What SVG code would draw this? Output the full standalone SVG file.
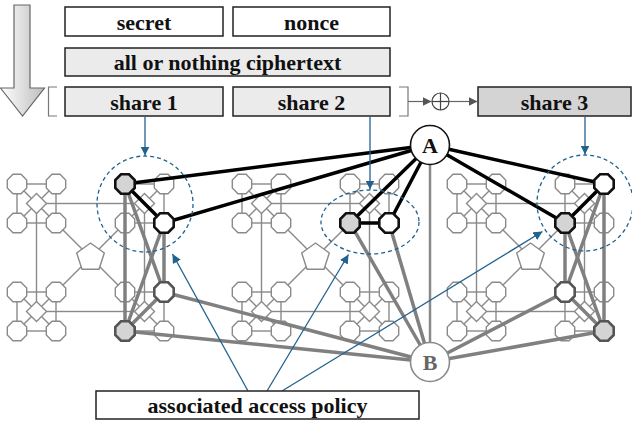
<svg xmlns="http://www.w3.org/2000/svg" xmlns:xlink="http://www.w3.org/1999/xlink" width="632" height="424" viewBox="0 0 632 424">
<style>
.box{stroke:#222;stroke-width:1.5}
.t{font-family:"Liberation Serif","Times New Roman",serif;font-weight:bold;font-size:22px;text-anchor:middle;fill:#111}
.bg line,.bg rect{stroke:#8a8a8a;stroke-width:1.4;fill:none}
.bgs{fill:#fff;stroke:#8a8a8a;stroke-width:1.4}
.blk{stroke:#000;stroke-width:3.5;stroke-linecap:round}
.gry{stroke:#808080;stroke-width:3.5;stroke-linecap:round}
.blue{stroke:#21628f;stroke-width:1.3;fill:none}
.dash{stroke:#21628f;stroke-width:1.3;fill:none;stroke-dasharray:4 3}
.hg{fill:#d4d4d4;stroke-width:2.6}
.hw{fill:#fff;stroke-width:2.6}
</style>
<defs>
<linearGradient id="ag" x1="0" y1="0" x2="1" y2="0">
<stop offset="0" stop-color="#ffffff"/><stop offset="1" stop-color="#bdbdbd"/>
</linearGradient>
<polygon id="oct" points="9.7,4.02 4.02,9.7 -4.02,9.7 -9.7,4.02 -9.7,-4.02 -4.02,-9.7 4.02,-9.7 9.7,-4.02"/>
<polygon id="dia" points="0,-10 10,0 0,10 -10,0"/>
<polygon id="pen" points="0,-14.5 13.8,-4.5 8.5,11.7 -8.5,11.7 -13.8,-4.5"/>
<marker id="bh" viewBox="0 0 10 10" refX="10" refY="5" markerWidth="9" markerHeight="9" markerUnits="userSpaceOnUse" orient="auto">
<path d="M0,0 L10,5 L0,10 z" fill="#21628f"/>
</marker>
<marker id="gh" viewBox="0 0 10 10" refX="10" refY="5" markerWidth="9" markerHeight="9" markerUnits="userSpaceOnUse" orient="auto">
<path d="M0,0 L10,5 L0,10 z" fill="#555"/>
</marker>
<g id="module">
<g class="bg">
<rect x="19.5" y="19.5" width="108" height="108"/>
<rect x="0" y="0" width="39" height="39"/>
<rect x="108" y="0" width="39" height="39"/>
<rect x="0" y="108" width="39" height="39"/>
<rect x="108" y="108" width="39" height="39"/>
<line x1="0" y1="0" x2="39" y2="39"/><line x1="39" y1="0" x2="0" y2="39"/>
<line x1="108" y1="0" x2="147" y2="39"/><line x1="147" y1="0" x2="108" y2="39"/>
<line x1="0" y1="108" x2="39" y2="147"/><line x1="39" y1="108" x2="0" y2="147"/>
<line x1="108" y1="108" x2="147" y2="147"/><line x1="147" y1="108" x2="108" y2="147"/>
<line x1="39" y1="39" x2="108" y2="108"/><line x1="108" y1="39" x2="39" y2="108"/>
</g>
<g class="bgs">
<use href="#dia" x="19.5" y="19.5"/><use href="#dia" x="127.5" y="19.5"/>
<use href="#dia" x="19.5" y="127.5"/><use href="#dia" x="127.5" y="127.5"/>
<use href="#pen" x="73.5" y="73.5"/>
<use href="#oct" x="0" y="0"/><use href="#oct" x="39" y="0"/><use href="#oct" x="0" y="39"/><use href="#oct" x="39" y="39"/>
<use href="#oct" x="108" y="0"/><use href="#oct" x="147" y="0"/><use href="#oct" x="108" y="39"/><use href="#oct" x="147" y="39"/>
<use href="#oct" x="0" y="108"/><use href="#oct" x="39" y="108"/><use href="#oct" x="0" y="147"/><use href="#oct" x="39" y="147"/>
<use href="#oct" x="108" y="108"/><use href="#oct" x="147" y="108"/><use href="#oct" x="108" y="147"/><use href="#oct" x="147" y="147"/>
</g>
</g>
</defs>

<rect width="632" height="424" fill="#fff"/>

<!-- top flow -->
<g id="flow-arrow"><polygon points="14,5 30,5 30,88 44.5,88 22.5,116 0.5,88 14,88" fill="url(#ag)" stroke="#666" stroke-width="1.2"/></g>
<g id="secret"><rect class="box" x="65" y="7" width="158" height="29" fill="#fff"/><text class="t" x="144" y="29.5">secret</text></g>
<g id="nonce"><rect class="box" x="233" y="7" width="157" height="29" fill="#fff"/><text class="t" x="311.5" y="29.5">nonce</text></g>
<g id="aont"><rect class="box" x="65" y="48" width="325" height="28" fill="#ebebeb"/><text class="t" x="227.5" y="69.5">all or nothing ciphertext</text></g>
<g id="share1"><rect class="box" x="65" y="87" width="158" height="29" fill="#ebebeb"/><text class="t" x="144" y="109.5">share 1</text></g>
<g id="share2"><rect class="box" x="233" y="87" width="157" height="29" fill="#ebebeb"/><text class="t" x="311.5" y="109.5">share 2</text></g>
<g id="share3"><rect class="box" x="478" y="87" width="153" height="29" fill="#d4d4d4"/><text class="t" x="554.5" y="109.5">share 3</text></g>
<g id="brackets" fill="none" stroke="#777" stroke-width="1.2">
<polyline points="57,87 48.5,87 48.5,116 57,116"/>
<polyline points="399,87 408,87 408,116 399,116"/>
</g>
<g id="xor" fill="none" stroke="#444" stroke-width="1.2">
<circle cx="440.5" cy="101.5" r="8.5"/>
<line x1="432" y1="101.5" x2="449" y2="101.5"/><line x1="440.5" y1="93" x2="440.5" y2="110"/>
</g>
<g id="xor-arrows" stroke="#666" stroke-width="1.2">
<line x1="408" y1="101.5" x2="431.5" y2="101.5" marker-end="url(#gh)"/>
<line x1="449" y1="101.5" x2="477.5" y2="101.5" marker-end="url(#gh)"/>
</g>

<!-- background modules -->
<g id="module1"><use href="#module" x="17" y="184"/></g>
<g id="module2"><use href="#module" x="242" y="184"/></g>
<g id="module3"><use href="#module" x="457" y="184"/></g>

<!-- connectors -->
<g id="connectors">
<line x1="430" y1="160" x2="430" y2="345" stroke="#8a8a8a" stroke-width="2.5"/>
<g class="gry" stroke-width="3">
<line x1="125" y1="184" x2="125" y2="331"/>
<line x1="125" y1="184" x2="164" y2="292"/>
<line x1="164" y1="223" x2="164" y2="292"/>
<line x1="164" y1="223" x2="125" y2="331"/>
<line x1="164" y1="292" x2="125" y2="331"/>
<line x1="604" y1="184" x2="604" y2="331"/>
<line x1="604" y1="184" x2="565" y2="292"/>
<line x1="565" y1="223" x2="565" y2="292"/>
<line x1="565" y1="223" x2="604" y2="331"/>
<line x1="565" y1="292" x2="604" y2="331"/>
</g>
<g class="gry">
<line x1="430" y1="362" x2="125" y2="331"/>
<line x1="430" y1="362" x2="164" y2="292"/>
<line x1="430" y1="362" x2="350" y2="223"/>
<line x1="430" y1="362" x2="389" y2="223"/>
<line x1="430" y1="362" x2="565" y2="292"/>
<line x1="430" y1="362" x2="604" y2="331"/>
</g>
<g class="blk">
<line x1="430" y1="145" x2="125" y2="184"/>
<line x1="430" y1="145" x2="164" y2="223"/>
<line x1="430" y1="145" x2="350" y2="223"/>
<line x1="430" y1="145" x2="389" y2="223"/>
<line x1="430" y1="145" x2="565" y2="223"/>
<line x1="430" y1="145" x2="604" y2="184"/>
<line x1="125" y1="184" x2="164" y2="223"/>
<line x1="350" y1="223" x2="389" y2="223"/>
<line x1="604" y1="184" x2="565" y2="223"/>
</g>
</g>

<!-- highlighted nodes -->
<g id="n1a" class="hg" stroke="#111"><use href="#oct" x="125" y="184"/></g>
<g id="n1b" class="hw" stroke="#111"><use href="#oct" x="164" y="223"/></g>
<g id="n1c" class="hw" stroke="#555"><use href="#oct" x="164" y="292"/></g>
<g id="n1d" class="hg" stroke="#555"><use href="#oct" x="125" y="331"/></g>
<g id="n2a" class="hg" stroke="#111"><use href="#oct" x="350" y="223"/></g>
<g id="n2b" class="hw" stroke="#111"><use href="#oct" x="389" y="223"/></g>
<g id="n3a" class="hw" stroke="#111"><use href="#oct" x="604" y="184"/></g>
<g id="n3b" class="hg" stroke="#111"><use href="#oct" x="565" y="223"/></g>
<g id="n3c" class="hw" stroke="#555"><use href="#oct" x="565" y="292"/></g>
<g id="n3d" class="hg" stroke="#555"><use href="#oct" x="604" y="331"/></g>

<g id="nodeA"><circle cx="430" cy="145" r="19.5" fill="#fff" stroke="#111" stroke-width="1.6"/><text class="t" x="430" y="152.5">A</text></g>
<g id="nodeB"><circle cx="430" cy="362" r="19.5" fill="#fff" stroke="#8a8a8a" stroke-width="1.6"/><text class="t" x="430" y="369.5" style="fill:#666">B</text></g>

<!-- policy groups -->
<g id="groups">
<circle class="dash" cx="145" cy="204" r="48"/>
<ellipse class="dash" cx="370" cy="222" rx="49" ry="32"/>
<circle class="dash" cx="585" cy="203" r="48"/>
</g>
<g id="blue-arrows" class="blue">
<line x1="145" y1="116" x2="145" y2="155.5" marker-end="url(#bh)"/>
<line x1="370" y1="116" x2="370" y2="189.5" marker-end="url(#bh)"/>
<line x1="585" y1="116" x2="585" y2="154.5" marker-end="url(#bh)"/>
<line x1="248" y1="391" x2="172.5" y2="254" marker-end="url(#bh)"/>
<line x1="267" y1="391" x2="348.5" y2="254.5" marker-end="url(#bh)"/>
<line x1="282" y1="391" x2="542.5" y2="231.5" marker-end="url(#bh)"/>
</g>

<g id="policy"><rect class="box" x="96" y="391" width="323" height="28" fill="#fff"/><text class="t" x="257.5" y="412.5">associated access policy</text></g>
</svg>
